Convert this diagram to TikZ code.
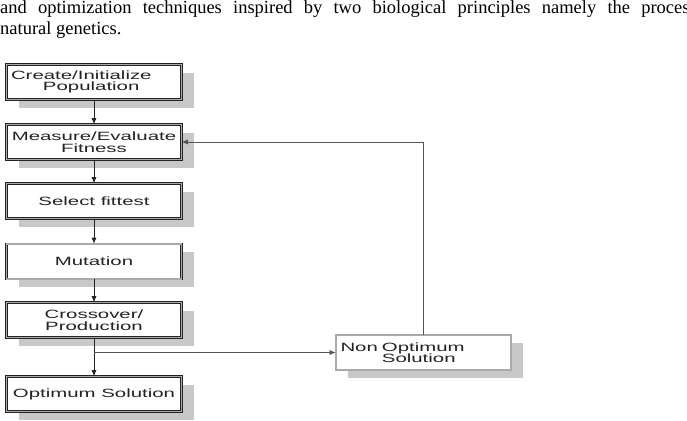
\documentclass[tikz,border=0pt]{standalone}
\usepackage{fontspec}
\usepackage{xcolor}
\usepackage{tikz}
\usetikzlibrary{arrows.meta, shadows}
\setmainfont{Liberation Serif}
\newfontfamily\diagfont[FakeStretch=1.7]{Liberation Sans}
\definecolor{cline}{RGB}{35,35,35}
\definecolor{cframe}{RGB}{170,170,170}
\definecolor{cshadow}{RGB}{200,200,200}
\definecolor{cloop}{RGB}{85,85,85}

\begin{document}
\begin{tikzpicture}[
    x=1pt, y=1pt,
    >={Latex[length=6pt, width=5pt]},
    every node/.style={font=\diagfont\fontsize{12}{11.5}\selectfont, text=cline},
    stage/.style={draw=cline, line width=0.6pt, double=cframe, double distance=1.2pt,
        fill=white, minimum width=175pt, minimum height=35pt, align=center,
        drop shadow={shadow xshift=12pt, shadow yshift=-8pt, fill=cshadow, opacity=1}},
    link/.style={->, line width=0.7pt, cline},
    paper/.style={anchor=base west, inner sep=0, font=\fontsize{18.5}{22}\selectfont, text=black},
]
    \clip (0,0) rectangle (687,-420);

    % paper text above the figure
    \node[paper] (para1) at (0,-13.5)
        {\makebox[696.5pt][s]{and optimization techniques inspired by two biological principles namely the process}};
    \node[paper] (para2) at (0,-34.5) {natural genetics.};

    % main loop
    \node[stage, align=left, text width=166pt] (create) at (94,-82)
        {Create/Initialize\\\hspace*{32pt}Population};
    \node[stage] (measure) at (94,-142) {Measure/Evaluate\\Fitness};
    \node[stage] (select) at (94,-201) {Select fittest};
    \node[stage] (mutation) at (94,-261.5) {Mutation};
    \node[stage] (cross) at (94,-320) {Crossover/\\Production};
    \node[stage] (optimum) at (94,-394) {Optimum Solution};

    % side branch
    \node[stage, align=left, text width=166pt] (nonopt) at (423.5,-352.5)
        {Non Optimum\\\hphantom{Non }Solution};

    \draw[link] (create) -- (measure);
    \draw[link] (measure) -- (select);
    \draw[link] (select) -- (mutation);
    \draw[link] (mutation) -- (cross);
    \draw[link] (cross) -- (optimum);

    % back to evaluation
    \coordinate (fork) at (cross.south |- nonopt.west);
    \draw[link, cloop] (fork) -- (nonopt.west);
    \draw[link, cloop] (nonopt.north) |- (measure.east);
\end{tikzpicture}
\end{document}
